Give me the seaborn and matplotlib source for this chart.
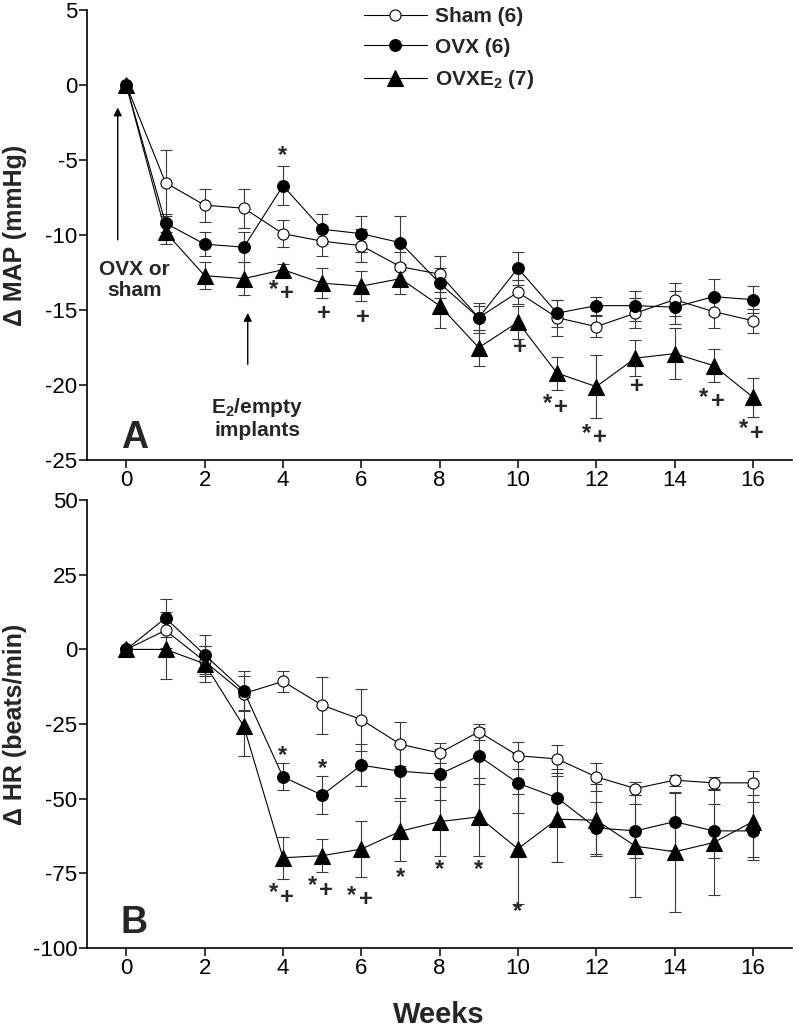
import numpy as np
import pandas as pd
import seaborn as sns
from matplotlib import pyplot as plt
from matplotlib.lines import Line2D

weeks = list(range(17))
groups = ["Sham (6)", "OVX (6)", "OVXE$_\\mathbf{2}$ (7)"]

# Panel A: change in mean arterial pressure (mmHg)
map_sham = [0, -6.5, -8.0, -8.2, -9.9, -10.4, -10.7, -12.1, -12.6, -15.5, -13.8, -15.5, -16.1, -15.2, -14.3, -15.1, -15.7]
map_sham_err = [0, 2.2, 1.1, 1.3, 0.9, 1.0, 1.1, 1.0, 1.2, 1.0, 0.8, 1.2, 0.7, 1.0, 1.1, 1.1, 0.8]
map_ovx = [0, -9.2, -10.6, -10.8, -6.7, -9.6, -9.9, -10.5, -13.2, -15.5, -12.2, -15.2, -14.7, -14.7, -14.8, -14.1, -14.3]
map_ovx_err = [0, 0.6, 0.8, 1.0, 1.3, 1.0, 1.2, 1.8, 1.0, 0.8, 1.1, 0.9, 0.6, 1.0, 1.1, 1.2, 0.9]
map_e2 = [0, -9.8, -12.7, -12.9, -12.3, -13.2, -13.4, -12.9, -14.7, -17.5, -15.8, -19.2, -20.1, -18.2, -17.9, -18.7, -20.8]
map_e2_err = [0, 0.8, 0.9, 1.1, 0.4, 1.0, 1.0, 1.0, 1.5, 1.2, 1.1, 1.1, 2.1, 1.2, 1.7, 1.1, 1.3]

# Panel B: change in heart rate (beats/min)
hr_sham = [0, 6.4, -4.0, -14.8, -10.7, -18.7, -23.5, -31.8, -34.7, -27.6, -35.6, -36.7, -42.7, -46.6, -43.8, -44.7, -44.7]
hr_sham_err = [0, 6.0, 5.0, 6.0, 3.5, 9.5, 10.4, 7.4, 3.5, 2.7, 4.5, 4.8, 4.8, 2.2, 1.8, 2.0, 4.0]
hr_ovx = [0, 10.5, -1.8, -13.9, -42.7, -48.8, -38.8, -40.8, -41.8, -35.7, -44.8, -49.7, -59.8, -60.8, -57.7, -60.8, -60.8]
hr_ovx_err = [0, 6.5, 6.5, 6.5, 4.5, 6.5, 7.0, 9.0, 8.5, 9.5, 10.0, 9.5, 8.7, 9.0, 9.5, 9.0, 9.8]
hr_e2 = [0, 0, -4.8, -25.8, -69.8, -69.1, -66.9, -60.9, -57.7, -56.1, -66.8, -56.9, -57.2, -65.9, -67.8, -64.7, -57.7]
hr_e2_err = [0, 9.8, 6.0, 10.0, 7.0, 5.5, 9.5, 10.0, 11.5, 13.0, 18.5, 14.4, 12.0, 17.2, 20.0, 17.6, 12.0]

# significance marks
a_star_w, a_star_y = [4], [-4.7]
a_sp_w, a_sp_y = [4, 11, 12, 15, 16], [-13.9, -21.5, -23.5, -21.1, -23.2]
a_plus_w, a_plus_y = [5, 6, 10, 13], [-15.2, -15.5, -17.5, -20.1]
b_star_w, b_star_y = [4, 5, 7, 8, 9, 10], [-35.5, -39.8, -76.3, -73.7, -73.7, -87.8]
b_sp_w, b_sp_y = [4, 5, 6], [-83.0, -80.6, -83.9]

styles = {
    groups[0]: dict(marker="o", markersize=8, markerfacecolor="white"),
    groups[1]: dict(marker="o", markersize=8.5, markerfacecolor="black"),
    groups[2]: dict(marker="^", markersize=11, markerfacecolor="black"),
}


def long_df(vals, errs):
    rows = []
    for g, v, e in zip(groups, vals, errs):
        rows.append(pd.DataFrame({"week": weeks, "value": v, "err": e, "group": g}))
    return pd.concat(rows, ignore_index=True)


def draw_panel(ax, df):
    for g in groups:
        sub = df[df["group"] == g]
        ax.errorbar(sub["week"], sub["value"], yerr=sub["err"], fmt="none",
                    ecolor="#3a3a3a", elinewidth=0.8, capsize=4, capthick=0.8, zorder=2)
    for g in groups:
        sub = df[df["group"] == g]
        sns.lineplot(data=sub, x="week", y="value", ax=ax, color="black", lw=0.8,
                     markeredgecolor="black", markeredgewidth=0.8, errorbar=None,
                     legend=False, zorder=3, **styles[g])


def star_plus(ax, ws, ys):
    for w, y in zip(ws, ys):
        ax.annotate("+", (w, y), xytext=(3, 0), textcoords="offset points",
                    ha="center", va="center", fontsize=17, fontweight="bold")
        ax.annotate("*", (w, y), xytext=(-7, 3), textcoords="offset points",
                    ha="center", va="center", fontsize=17, fontweight="bold")


def only(ax, ws, ys, sym, size):
    for w, y in zip(ws, ys):
        ax.annotate(sym, (w, y), ha="center", va="center", fontsize=size, fontweight="bold")


sns.set_style("ticks")
plt.rcParams["font.family"] = ["Liberation Sans", "DejaVu Sans"]
plt.rcParams["axes.unicode_minus"] = False
plt.rcParams["mathtext.fontset"] = "custom"
plt.rcParams["mathtext.rm"] = "Liberation Sans"
plt.rcParams["mathtext.bf"] = "Liberation Sans:bold"

fig = plt.figure(figsize=(8, 10.27), dpi=100)
ax_a = fig.add_axes([0.109, 0.552, 0.881, 0.438])
ax_b = fig.add_axes([0.109, 0.077, 0.881, 0.436])

df_map = long_df([map_sham, map_ovx, map_e2], [map_sham_err, map_ovx_err, map_e2_err])
df_hr = long_df([hr_sham, hr_ovx, hr_e2], [hr_sham_err, hr_ovx_err, hr_e2_err])
draw_panel(ax_a, df_map)
draw_panel(ax_b, df_hr)

for ax in (ax_a, ax_b):
    sns.despine(ax=ax)
    ax.set_xlim(-1, 17)
    ax.set_xticks(range(0, 17, 2))
    ax.set_xlabel("")
    for s in ("left", "bottom"):
        ax.spines[s].set_linewidth(1.2)
        ax.spines[s].set_color("black")
    ax.tick_params(direction="out", length=6, width=1.1, labelsize=16, pad=1, colors="black")
    ax.yaxis.set_label_coords(-0.085, 0.5)

ax_a.set_ylim(-25, 5)
ax_a.set_yticks(range(-25, 6, 5))
ax_a.set_ylabel("Δ MAP (mmHg)", fontsize=18, fontweight="bold")
ax_b.set_ylim(-100, 50)
ax_b.set_yticks(range(-100, 51, 25))
ax_b.set_ylabel("Δ HR (beats/min)", fontsize=18, fontweight="bold")

only(ax_a, a_star_w, a_star_y, "*", 17)
star_plus(ax_a, a_sp_w, a_sp_y)
only(ax_a, [w + 0.05 for w in a_plus_w], a_plus_y, "+", 17)
only(ax_b, b_star_w, b_star_y, "*", 17)
star_plus(ax_b, b_sp_w, b_sp_y)

# event arrows in panel A
arrow = dict(arrowstyle="-|>", color="black", lw=1, mutation_scale=12)
ax_a.annotate("", xy=(-0.22, -1.3), xytext=(-0.22, -10.5), arrowprops=arrow)
ax_a.text(0.2, -13.0, "OVX or\nsham", ha="center", va="center", fontsize=15,
          fontweight="bold", linespacing=1.15)
ax_a.annotate("", xy=(3.1, -15.0), xytext=(3.1, -18.8), arrowprops=arrow)
ax_a.text(3.35, -22.2, "E$_\\mathbf{2}$/empty\nimplants", ha="center", va="center",
          fontsize=15, fontweight="bold", linespacing=1.15)

ax_a.text(0.2, -23.5, "A", ha="center", va="center", fontsize=27, fontweight="bold")
ax_b.text(0.2, -91.5, "B", ha="center", va="center", fontsize=27, fontweight="bold")

handles = [Line2D([], [], color="black", lw=0.8, markeredgecolor="black",
                  markeredgewidth=0.8, **styles[g]) for g in groups]
fig.legend(handles, groups, loc="upper left", bbox_to_anchor=(0.455, 0.993),
           frameon=False, prop={"size": 15, "weight": "bold"}, handlelength=3.0,
           handletextpad=0.4, labelspacing=0.55, borderpad=0, borderaxespad=0)

fig.text(0.548, 0.004, "Weeks", ha="center", va="baseline", fontsize=21, fontweight="bold")

fig.savefig("out.png", dpi=100)
